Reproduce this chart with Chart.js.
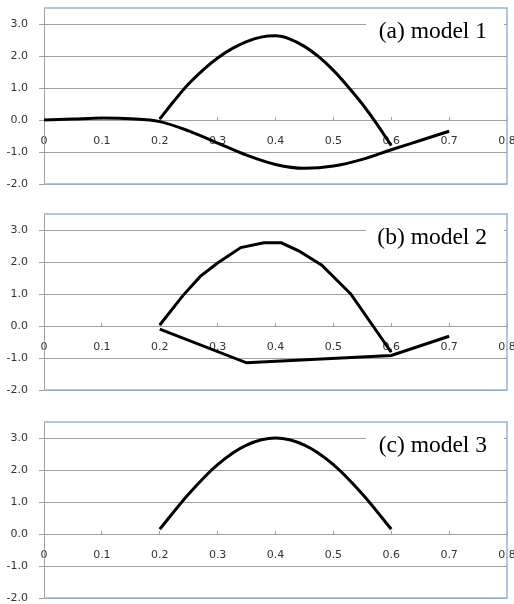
<!DOCTYPE html>
<html>
<head>
<meta charset="utf-8">
<script src="https://cdn.jsdelivr.net/npm/chart.js@4.4.1/dist/chart.umd.min.js"></script>
<style>
  html, body { margin: 0; padding: 0; background: #fff; }
  #wrap { position: relative; width: 514px; height: 604px; }
  .panel { position: absolute; left: 0; width: 514px; height: 190px; }
</style>
</head>
<body>
<div id="wrap">
  <div class="panel" style="top:0px"><canvas id="chartA" width="514" height="190"></canvas></div>
  <div class="panel" style="top:206px"><canvas id="chartB" width="514" height="190"></canvas></div>
  <div class="panel" style="top:414px"><canvas id="chartC" width="514" height="190"></canvas></div>
</div>
<script>
// panel captions
const panelLabels = ['(a) model 1', '(b) model 2', '(c) model 3'];

// axis ranges (same for all three panels)
const xMin = 0, xMax = 0.8, xStep = 0.1;
const yMin = -2, yMax = 3.5, yStep = 1;

// model 1 - lower curve
const m1LowerX = [0, 0.05, 0.1, 0.15, 0.2, 0.25, 0.3, 0.35, 0.4, 0.45, 0.5, 0.55, 0.6, 0.65, 0.7];
const m1LowerY = [0, 0.03, 0.06, 0.04, -0.05, -0.34, -0.72, -1.1, -1.39, -1.51, -1.44, -1.23, -0.93, -0.64, -0.35];
// model 1 - upper arc
const m1UpperX = [0.2, 0.225, 0.25, 0.275, 0.3, 0.325, 0.35, 0.375, 0.4, 0.425, 0.45, 0.475, 0.5, 0.525, 0.55, 0.575, 0.6];
const m1UpperY = [0.03, 0.6, 1.13, 1.57, 1.94, 2.23, 2.45, 2.59, 2.63, 2.53, 2.3, 1.97, 1.55, 1.05, 0.5, -0.12, -0.8];

// model 2 - upper arc (coarse segments)
const m2UpperX = [0.2, 0.24, 0.27, 0.3, 0.34, 0.38, 0.41, 0.44, 0.48, 0.53, 0.6];
const m2UpperY = [0.03, 0.95, 1.55, 1.97, 2.45, 2.6, 2.6, 2.35, 1.9, 1.0, -0.82];
// model 2 - lower polyline
const m2LowerX = [0.2, 0.35, 0.6, 0.7];
const m2LowerY = [-0.1, -1.15, -0.92, -0.32];

// model 3 - single arc
const m3X = [0.2, 0.25, 0.3, 0.35, 0.4, 0.45, 0.5, 0.55, 0.6];
const m3Y = [0.15, 1.25, 2.17, 2.78, 3.0, 2.78, 2.17, 1.25, 0.15];

const gridColor = '#a0a0a0';
const frameColor = '#95b3d7';
const tickFont = { family: 'DejaVu Sans', size: 11 };

function pts(xs, ys) {
    return xs.map((x, i) => ({ x: x, y: ys[i] }));
}

// blue frame round the plot area plus the caption in a white box
const panelFrame = {
    id: 'panelFrame',
    beforeDatasetsDraw(chart, args, opts) {
        const ctx = chart.ctx;
        const a = chart.chartArea;
        ctx.save();
        ctx.strokeStyle = frameColor;
        ctx.lineWidth = 1.5;
        ctx.beginPath();
        ctx.moveTo(a.left, a.top);
        ctx.lineTo(a.right, a.top);
        ctx.lineTo(a.right, a.bottom);
        ctx.lineTo(a.left, a.bottom);
        ctx.stroke();

        ctx.fillStyle = '#fff';
        ctx.fillRect(a.right - 141, a.top + 4, 138, 36);
        ctx.fillStyle = '#000';
        ctx.font = '23.5px "Liberation Serif"';
        ctx.textAlign = 'right';
        ctx.textBaseline = 'middle';
        ctx.fillText(opts.text, a.right - 20, a.top + 24);
        ctx.restore();
    }
};

function makeChart(id, label, datasets, straight) {
    new Chart(document.getElementById(id), {
        type: 'line',
        data: {
            datasets: datasets.map(d => ({
                data: d,
                borderColor: '#000',
                borderWidth: 3,
                pointRadius: 0,
                fill: false,
                tension: 0,
                cubicInterpolationMode: straight ? 'default' : 'monotone'
            }))
        },
        plugins: [panelFrame],
        options: {
            responsive: false,
            animation: false,
            layout: { padding: { top: 8, right: 7, bottom: 6, left: 0 } },
            plugins: {
                legend: { display: false },
                tooltip: { enabled: false },
                panelFrame: { text: label }
            },
            scales: {
                x: {
                    type: 'linear',
                    axis: 'x',
                    position: { y: 0 },
                    min: xMin,
                    max: xMax,
                    grid: { drawOnChartArea: false, drawTicks: true, tickLength: -4, color: gridColor },
                    border: { color: gridColor },
                    ticks: {
                        stepSize: xStep,
                        padding: 19,
                        maxRotation: 0,
                        autoSkip: false,
                        color: '#333333',
                        font: tickFont,
                        callback: v => String(Number(v.toFixed(1)))
                    },
                    afterFit: s => { s.height = 0; s.paddingLeft = 0; s.paddingRight = 0; }
                },
                y: {
                    min: yMin,
                    max: yMax,
                    grid: { color: gridColor, tickLength: 5 },
                    border: { color: gridColor },
                    ticks: {
                        stepSize: yStep,
                        includeBounds: false,
                        padding: 11,
                        color: '#333333',
                        font: tickFont,
                        callback: v => v.toFixed(1)
                    },
                    afterFit: s => { s.width = 44; s.paddingTop = 0; s.paddingBottom = 0; }
                }
            }
        }
    });
}

makeChart('chartA', panelLabels[0], [pts(m1LowerX, m1LowerY), pts(m1UpperX, m1UpperY)], false);
// model 2 is drawn with straight segments
makeChart('chartB', panelLabels[1], [pts(m2UpperX, m2UpperY), pts(m2LowerX, m2LowerY)], true);
makeChart('chartC', panelLabels[2], [pts(m3X, m3Y)], false);
</script>
</body>
</html>
